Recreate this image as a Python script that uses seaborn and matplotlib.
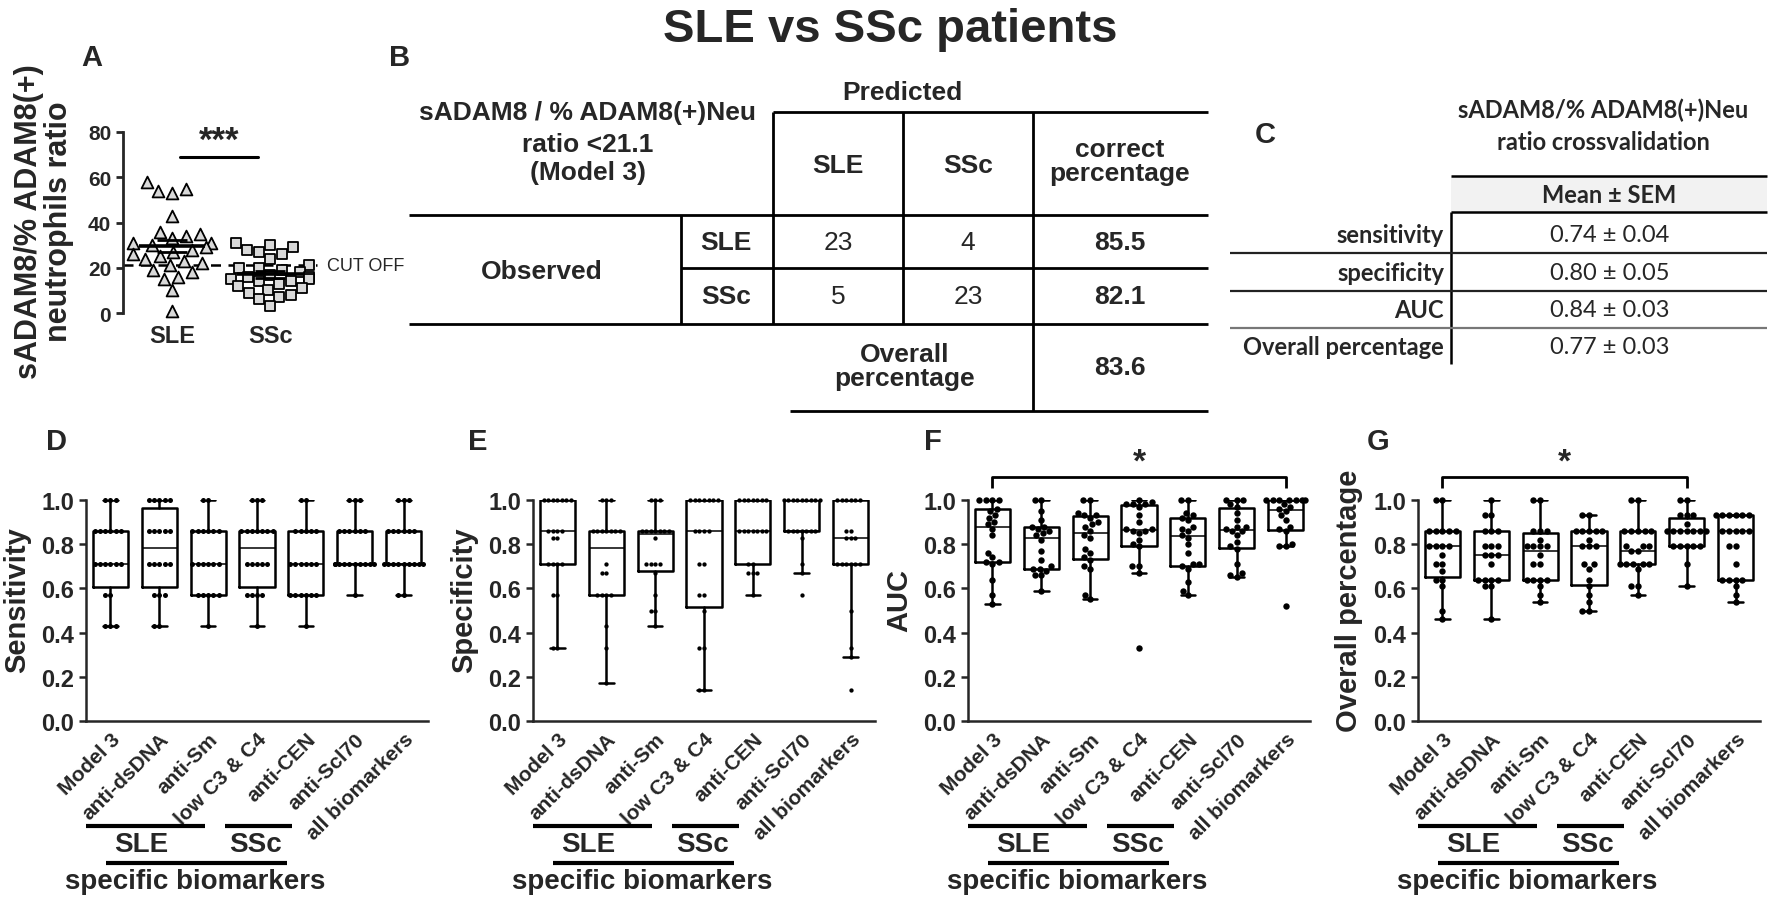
import numpy as np
import pandas as pd
import seaborn as sns
import matplotlib.pyplot as plt
import matplotlib.transforms as mtrans
from matplotlib.patches import Rectangle

sns.set_style('ticks')
plt.rcParams['font.family'] = ['Liberation Sans', 'DejaVu Sans']
plt.rcParams['font.weight'] = 'bold'
plt.rcParams['axes.labelweight'] = 'bold'

# ---- panel A: ratio per patient ----
a_groups = ['SLE', 'SSc']
a_sle = [58, 55, 54, 53, 43, 36, 35, 34, 33, 31, 31, 30, 29, 28, 27, 26, 25, 24,
         23, 22, 21, 19, 18, 16, 15, 10, 1]
a_ssc = [31, 30, 29, 28, 27, 26, 24, 21, 20, 20, 19, 18, 17, 16, 16, 15, 15, 14,
         14, 13, 12, 11, 10, 9, 8, 7, 6, 3]
a_cutoff = 21.1
a_sig_y = 69

# ---- panel B: classification table ----
b_title = ['sADAM8 / % ADAM8(+)Neu', 'ratio <21.1', '(Model 3)']
b_classes = ['SLE', 'SSc']
b_counts = [[23, 4], [5, 23]]
b_correct = [85.5, 82.1]
b_overall = 83.6

# ---- panel C: crossvalidation ----
c_title = ['sADAM8/% ADAM8(+)Neu', 'ratio crossvalidation']
c_rows = ['sensitivity', 'specificity', 'AUC', 'Overall percentage']
c_mean = [0.74, 0.80, 0.84, 0.77]
c_sem = [0.04, 0.05, 0.03, 0.03]

# ---- panels D-G: crossvalidation folds ----
categories = ['Model 3', 'anti-dsDNA', 'anti-Sm', 'low C3 & C4', 'anti-CEN',
              'anti-Scl70', 'all biomarkers']

sensitivity = [
    [0.43, 0.43, 0.43, 0.57, 0.57, 0.71, 0.71, 0.71, 0.71, 0.71, 0.71, 0.86, 0.86, 0.86, 0.86, 0.86, 0.86, 1.0, 1.0, 1.0],
    [0.43, 0.43, 0.57, 0.57, 0.57, 0.71, 0.71, 0.71, 0.71, 0.71, 0.86, 0.86, 0.86, 0.86, 0.86, 1.0, 1.0, 1.0, 1.0, 1.0],
    [0.43, 0.57, 0.57, 0.57, 0.57, 0.57, 0.71, 0.71, 0.71, 0.71, 0.71, 0.71, 0.86, 0.86, 0.86, 0.86, 0.86, 0.86, 1.0, 1.0],
    [0.43, 0.57, 0.57, 0.57, 0.57, 0.71, 0.71, 0.71, 0.71, 0.71, 0.86, 0.86, 0.86, 0.86, 0.86, 0.86, 0.86, 1.0, 1.0, 1.0],
    [0.43, 0.57, 0.57, 0.57, 0.57, 0.57, 0.57, 0.71, 0.71, 0.71, 0.71, 0.71, 0.71, 0.86, 0.86, 0.86, 0.86, 0.86, 1.0, 1.0],
    [0.57, 0.71, 0.71, 0.71, 0.71, 0.71, 0.71, 0.71, 0.71, 0.71, 0.71, 0.86, 0.86, 0.86, 0.86, 0.86, 0.86, 1.0, 1.0, 1.0],
    [0.57, 0.57, 0.71, 0.71, 0.71, 0.71, 0.71, 0.71, 0.71, 0.71, 0.71, 0.86, 0.86, 0.86, 0.86, 0.86, 0.86, 1.0, 1.0, 1.0],
]
specificity = [
    [0.33, 0.33, 0.57, 0.57, 0.71, 0.71, 0.71, 0.71, 0.83, 0.83, 0.86, 0.86, 0.86, 0.86, 1.0, 1.0, 1.0, 1.0, 1.0, 1.0, 1.0],
    [0.17, 0.33, 0.43, 0.57, 0.57, 0.57, 0.57, 0.67, 0.67, 0.71, 0.86, 0.86, 0.86, 0.86, 0.86, 0.86, 0.86, 1.0, 1.0, 1.0],
    [0.43, 0.5, 0.5, 0.57, 0.67, 0.71, 0.71, 0.71, 0.71, 0.83, 0.86, 0.86, 0.86, 0.86, 0.86, 0.86, 0.86, 1.0, 1.0, 1.0],
    [0.14, 0.14, 0.33, 0.33, 0.5, 0.57, 0.57, 0.71, 0.71, 0.86, 0.86, 0.86, 0.86, 1.0, 1.0, 1.0, 1.0, 1.0, 1.0, 1.0],
    [0.57, 0.67, 0.67, 0.67, 0.71, 0.71, 0.86, 0.86, 0.86, 0.86, 0.86, 0.86, 0.86, 1.0, 1.0, 1.0, 1.0, 1.0, 1.0, 1.0],
    [0.57, 0.67, 0.71, 0.83, 0.86, 0.86, 0.86, 0.86, 0.86, 0.86, 0.86, 1.0, 1.0, 1.0, 1.0, 1.0, 1.0, 1.0, 1.0, 1.0],
    [0.14, 0.29, 0.33, 0.5, 0.71, 0.71, 0.71, 0.71, 0.71, 0.71, 0.83, 0.83, 0.83, 0.86, 0.86, 1.0, 1.0, 1.0, 1.0, 1.0, 1.0],
]
auc = [
    [0.53, 0.57, 0.64, 0.71, 0.72, 0.72, 0.74, 0.76, 0.84, 0.87, 0.89, 0.90, 0.92, 0.93, 0.95, 0.96, 1.0, 1.0, 1.0, 1.0],
    [0.59, 0.66, 0.66, 0.68, 0.69, 0.69, 0.70, 0.73, 0.77, 0.82, 0.84, 0.85, 0.86, 0.87, 0.88, 0.88, 0.91, 0.95, 1.0, 1.0],
    [0.55, 0.57, 0.69, 0.70, 0.73, 0.74, 0.76, 0.78, 0.83, 0.84, 0.86, 0.88, 0.89, 0.90, 0.92, 0.93, 0.93, 0.94, 1.0, 1.0],
    [0.33, 0.67, 0.70, 0.70, 0.79, 0.80, 0.82, 0.85, 0.86, 0.86, 0.87, 0.87, 0.90, 0.93, 0.97, 0.98, 0.98, 0.98, 0.99, 1.0],
    [0.57, 0.59, 0.63, 0.69, 0.70, 0.71, 0.71, 0.76, 0.80, 0.83, 0.84, 0.86, 0.87, 0.88, 0.91, 0.92, 0.93, 0.94, 1.0, 1.0],
    [0.65, 0.66, 0.67, 0.71, 0.78, 0.79, 0.81, 0.84, 0.86, 0.86, 0.87, 0.88, 0.88, 0.91, 0.94, 0.97, 0.98, 1.0, 1.0, 1.0],
    [0.52, 0.79, 0.79, 0.80, 0.86, 0.87, 0.88, 0.91, 0.93, 0.95, 0.96, 0.97, 0.98, 1.0, 1.0, 1.0, 1.0, 1.0, 1.0, 1.0],
]
overall = [
    [0.46, 0.50, 0.61, 0.64, 0.64, 0.68, 0.71, 0.71, 0.75, 0.79, 0.79, 0.79, 0.79, 0.86, 0.86, 0.86, 0.86, 0.86, 1.0, 1.0],
    [0.46, 0.61, 0.61, 0.64, 0.64, 0.64, 0.64, 0.71, 0.75, 0.75, 0.75, 0.79, 0.79, 0.79, 0.86, 0.86, 0.86, 0.93, 0.93, 1.0],
    [0.54, 0.57, 0.61, 0.64, 0.64, 0.64, 0.64, 0.71, 0.71, 0.75, 0.79, 0.79, 0.79, 0.79, 0.82, 0.86, 0.86, 0.86, 1.0, 1.0],
    [0.50, 0.50, 0.54, 0.57, 0.61, 0.64, 0.69, 0.71, 0.71, 0.79, 0.79, 0.79, 0.82, 0.86, 0.86, 0.86, 0.86, 0.86, 0.93, 0.93],
    [0.57, 0.61, 0.61, 0.69, 0.71, 0.71, 0.71, 0.71, 0.71, 0.77, 0.77, 0.79, 0.79, 0.79, 0.86, 0.86, 0.86, 0.86, 0.86, 1.0, 1.0],
    [0.61, 0.71, 0.79, 0.79, 0.79, 0.79, 0.79, 0.86, 0.86, 0.86, 0.86, 0.86, 0.86, 0.86, 0.89, 0.93, 0.93, 0.93, 1.0, 1.0],
    [0.54, 0.57, 0.61, 0.64, 0.64, 0.64, 0.64, 0.71, 0.79, 0.79, 0.86, 0.86, 0.86, 0.86, 0.86, 0.93, 0.93, 0.93, 0.93, 0.93, 0.93],
]

W, H = 1772, 912
fig = plt.figure(figsize=(W / 100, H / 100), dpi=100)


def px_axes(l, t, r, b):
    ax = fig.add_axes([l / W, 1 - b / H, (r - l) / W, (b - t) / H])
    ax.set_facecolor('none')
    return ax


bg = fig.add_axes([0, 0, 1, 1])
bg.set_xlim(0, W)
bg.set_ylim(H, 0)
bg.axis('off')


def hline(x0, x1, y, lw=2.0, color='k'):
    bg.plot([x0, x1], [y, y], color=color, lw=lw, solid_capstyle='butt')


def vline(x, y0, y1, lw=2.0, color='k'):
    bg.plot([x, x], [y0, y1], color=color, lw=lw, solid_capstyle='butt')


bg.text(890, 30, 'SLE vs SSc patients', ha='center', va='center', fontsize=34)
for lab, x, y in [('A', 92, 58), ('B', 400, 58), ('C', 1265, 135), ('D', 57, 442),
                  ('E', 478, 442), ('F', 933, 442), ('G', 1378, 442)]:
    bg.text(x, y, lab, ha='center', va='center', fontsize=21)

# ---------------- panel A ----------------
axA = px_axes(123, 133, 330, 314)
sns.swarmplot(x=['SLE'] * len(a_sle), y=a_sle, order=a_groups, ax=axA, marker='^',
              color='#d9d9d9', edgecolor='black', linewidth=1.3, size=8.5, clip_on=False)
sns.swarmplot(x=['SSc'] * len(a_ssc), y=a_ssc, order=a_groups, ax=axA, marker='s',
              color='#d9d9d9', edgecolor='black', linewidth=1.3, size=7.5, clip_on=False)
for i, vals in enumerate([a_sle, a_ssc]):
    m = np.mean(vals)
    se = np.std(vals, ddof=1) / np.sqrt(len(vals))
    axA.hlines(m, i - 0.34, i + 0.34, color='k', lw=2.6, zorder=5)
    axA.hlines([m - se, m + se], i - 0.15, i + 0.15, color='k', lw=2.0, zorder=5)
axA.axhline(a_cutoff, xmin=0, xmax=0.937, color='k', lw=1.8, ls=(0, (4, 3)), zorder=1)
axA.text(0.985, a_cutoff, 'CUT OFF', transform=mtrans.blended_transform_factory(axA.transAxes, axA.transData),
         ha='left', va='center', fontsize=13, weight='normal')
axA.plot([0.08, 0.88], [a_sig_y, a_sig_y], color='k', lw=2.2, clip_on=False)
axA.text(0.48, a_sig_y, '***', ha='center', va='bottom', fontsize=25)
axA.set_xlim(-0.5, 1.61)
axA.set_ylim(0, 80)
axA.set_yticks([0, 20, 40, 60, 80])
axA.set_xlabel('')
axA.set_ylabel('')
for s in ['top', 'right', 'bottom']:
    axA.spines[s].set_visible(False)
axA.spines['left'].set_linewidth(2)
axA.tick_params(axis='y', labelsize=15, width=2, length=5)
axA.tick_params(axis='x', labelsize=17, length=0, pad=8)
bg.text(44, 222, 'sADAM8/% ADAM8(+)\nneutrophils ratio', rotation=90, ha='center',
        va='center', fontsize=22, linespacing=1.0)

# ---------------- panel B table ----------------
bfs = 19
for txt, y in zip(b_title, [113, 145, 173]):
    bg.text(588, y, txt, ha='center', va='center', fontsize=bfs)
bg.text(902, 93, 'Predicted', ha='center', va='center', fontsize=bfs)
hline(773, 1208, 113)
hline(409, 1208, 216)
hline(681, 1208, 269)
hline(409, 1208, 325)
hline(790, 1208, 412)
vline(773, 113, 325)
vline(903, 113, 325)
vline(1033, 113, 412)
vline(681, 216, 325)
col_x = [838, 968]
for cls, x in zip(b_classes, col_x):
    bg.text(x, 166, cls, ha='center', va='center', fontsize=bfs)
bg.text(1120, 162, 'correct\npercentage', ha='center', va='center', fontsize=bfs, linespacing=1.05)
bg.text(542, 272, 'Observed', ha='center', va='center', fontsize=bfs)
for r, (cls, y) in enumerate(zip(b_classes, [243, 297])):
    bg.text(726, y, cls, ha='center', va='center', fontsize=bfs)
    for c, x in enumerate(col_x):
        bg.text(x, y, str(b_counts[r][c]), ha='center', va='center', fontsize=bfs, weight='normal')
    bg.text(1120, y, f'{b_correct[r]:.1f}', ha='center', va='center', fontsize=bfs)
bg.text(905, 367, 'Overall\npercentage', ha='center', va='center', fontsize=bfs, linespacing=1.05)
bg.text(1120, 368, f'{b_overall:.1f}', ha='center', va='center', fontsize=bfs)

# ---------------- panel C table ----------------
cfam = ['Lato', 'DejaVu Sans']
cfs = 17
for txt, y in zip(c_title, [110, 142]):
    bg.text(1603, y, txt, ha='center', va='center', fontsize=cfs, family=cfam)
bg.add_patch(Rectangle((1451, 177), 316, 36, facecolor='#f2f2f2', edgecolor='none'))
hline(1451, 1767, 177, lw=1.8)
hline(1451, 1767, 213, lw=1.8)
bg.text(1609, 196, 'Mean ± SEM', ha='center', va='center', fontsize=cfs, family=cfam)
vline(1451, 213, 365, lw=1.8)
row_y = [236, 274, 311, 348]
for i, (name, m, se, y) in enumerate(zip(c_rows, c_mean, c_sem, row_y)):
    bg.text(1444, y, name, ha='right', va='center', fontsize=cfs, family=cfam)
    bg.text(1610, y, f'{m:.2f} ± {se:.2f}', ha='center', va='center', fontsize=cfs,
            family=cfam, weight='normal')
    if i < len(c_rows) - 1:
        hline(1230, 1767, y + 18, lw=1.6, color='#222222' if i < 2 else '#777777')

# ---------------- panels D-G ----------------
panels = [
    (sensitivity, 'Sensitivity', 86, 3.6, None),
    (specificity, 'Specificity', 533, 3.1, None),
    (auc, 'AUC', 968, 4.6, (0, 6)),
    (overall, 'Overall percentage', 1418, 4.6, (0, 5)),
]


def box_stats(vals):
    v = np.sort(np.asarray(vals, dtype=float))
    q1, med, q3 = np.percentile(v, [25, 50, 75], method='weibull')
    iqr = q3 - q1
    lo = v[v >= q1 - 1.5 * iqr].min()
    hi = v[v <= q3 + 1.5 * iqr].max()
    return dict(q1=q1, med=med, q3=q3, whislo=lo, whishi=hi, fliers=[])


for vals, ylabel, left, msize, sig in panels:
    ax = px_axes(left, 501, left + 342, 722)
    df = pd.DataFrame({
        'marker': np.repeat(categories, [len(v) for v in vals]),
        'value': np.concatenate(vals),
    })
    sns.swarmplot(data=df, x='marker', y='value', order=categories, color='black',
                  size=msize, ax=ax, zorder=3, clip_on=False, warn_thresh=1)
    ax.bxp([box_stats(v) for v in vals], positions=range(len(categories)), widths=0.72,
           showfliers=False, manage_ticks=False, capwidths=0.3,
           boxprops=dict(color='k', lw=1.8), whiskerprops=dict(color='k', lw=1.8),
           capprops=dict(color='k', lw=1.8), medianprops=dict(color='k', lw=1.1))
    ax.set_xlim(-0.5, 6.5)
    ax.set_ylim(0, 1.0)
    ax.set_yticks(np.arange(0, 1.01, 0.2))
    ax.set_yticklabels([f'{t:.1f}' for t in np.arange(0, 1.01, 0.2)])
    ax.set_xticks(range(len(categories)))
    ax.set_xticklabels(categories, rotation=45, ha='right', rotation_mode='anchor')
    ax.set_xlabel('')
    ax.set_ylabel(ylabel, fontsize=21, fontweight='bold')
    ax.yaxis.set_label_coords(-0.16, 0.55)
    for s in ['top', 'right']:
        ax.spines[s].set_visible(False)
    for s in ['left', 'bottom']:
        ax.spines[s].set_linewidth(1.8)
    ax.tick_params(axis='y', labelsize=17, width=1.8, length=5)
    ax.tick_params(axis='x', labelsize=15, length=0, pad=6)
    for lab in ax.get_xticklabels() + ax.get_yticklabels():
        lab.set_fontweight('bold')

    tr = mtrans.blended_transform_factory(ax.transData, ax.transAxes)
    kw = dict(transform=tr, clip_on=False, color='k', solid_capstyle='butt')
    ax.plot([-0.5, 1.93], [-0.475, -0.475], lw=3, **kw)
    ax.plot([2.34, 3.71], [-0.475, -0.475], lw=3, **kw)
    ax.plot([-0.09, 3.61], [-0.643, -0.643], lw=3, **kw)
    ax.text(0.64, -0.557, 'SLE', transform=tr, ha='center', va='center', fontsize=20)
    ax.text(2.96, -0.557, 'SSc', transform=tr, ha='center', va='center', fontsize=20)
    ax.text(1.73, -0.724, 'specific biomarkers', transform=tr, ha='center', va='center', fontsize=20)

    if sig is not None:
        a, b = sig
        ax.plot([a, a, b, b], [1.054, 1.104, 1.104, 1.054], lw=2, **kw)
        ax.text((a + b) / 2, 1.1, '*', transform=tr, ha='center', va='bottom', fontsize=24)

fig.savefig('out.png', dpi=100)
